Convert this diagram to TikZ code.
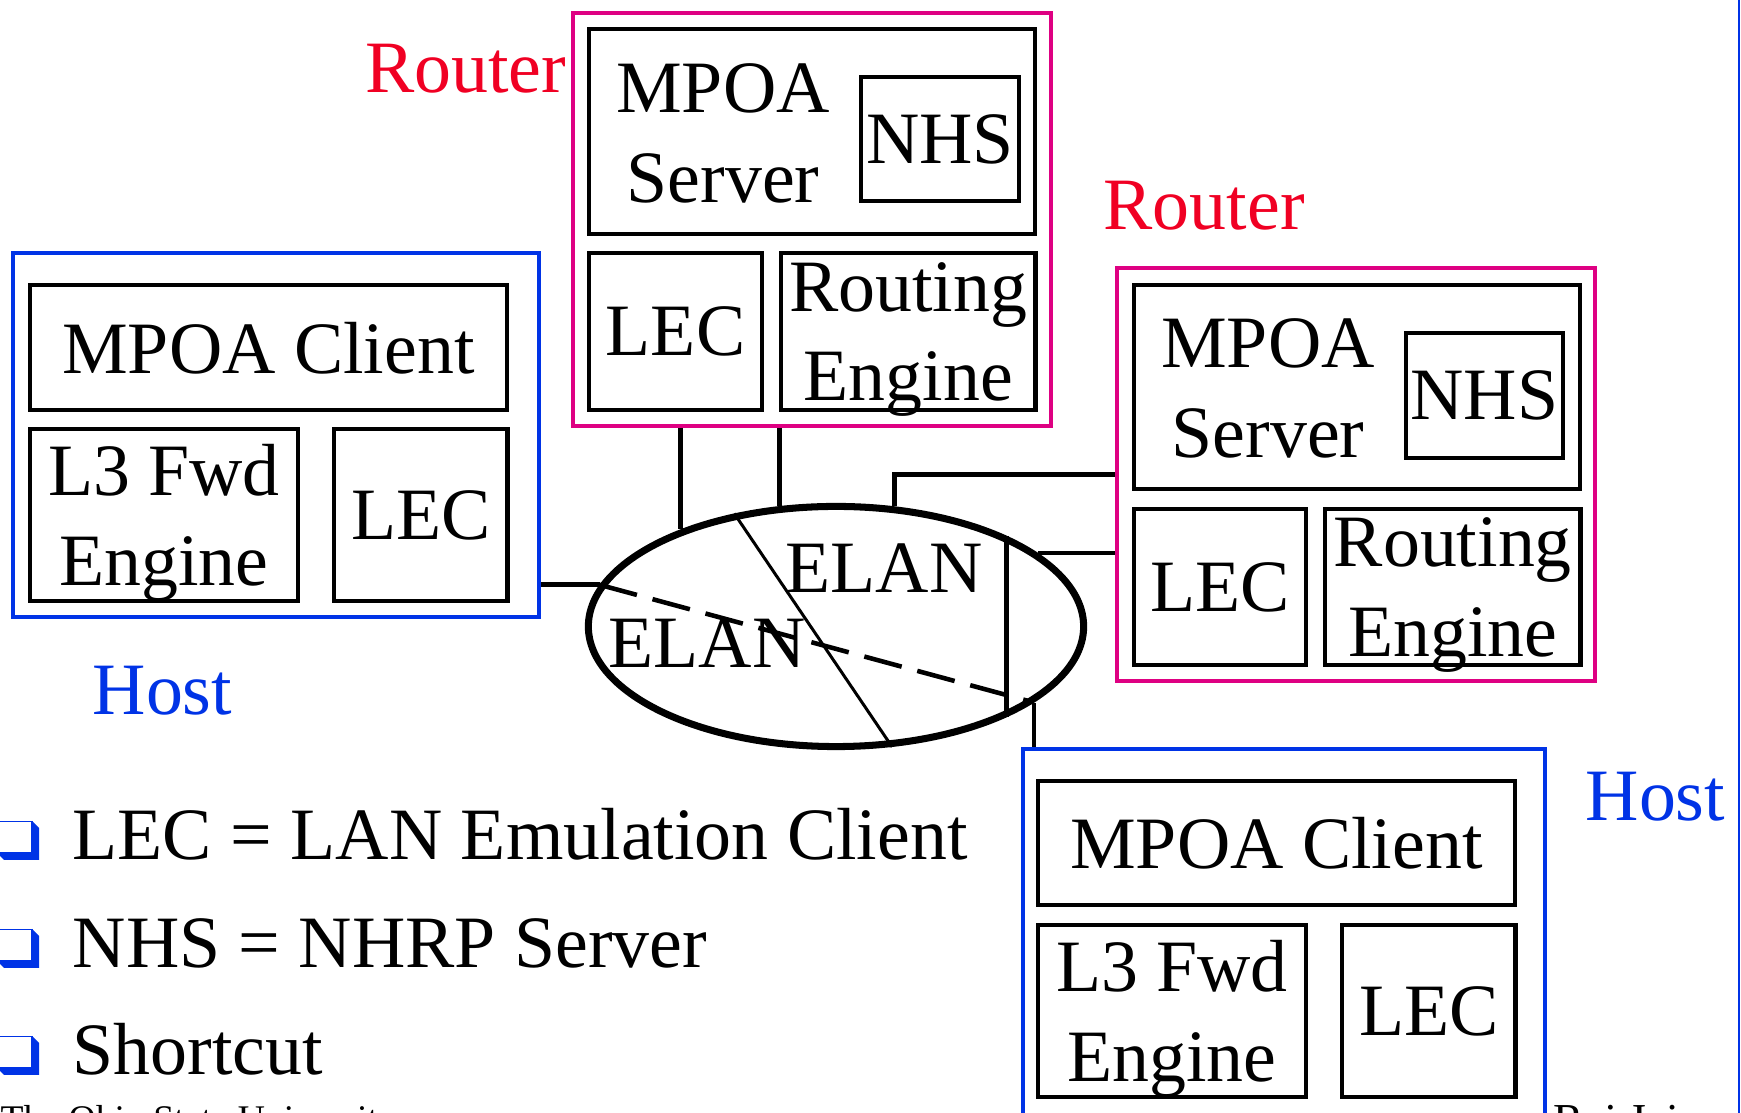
\documentclass[tikz,border=0pt]{standalone}
\usepackage{fontspec}
\setmainfont{Liberation Serif}
\usetikzlibrary{positioning,shapes.geometric}
\definecolor{routerpink}{RGB}{222,0,130}
\definecolor{routerred}{RGB}{240,0,35}
\definecolor{hostblue}{RGB}{0,51,230}
\tikzset{
  part/.style={rectangle, draw, line width=1.2pt, inner sep=0pt, align=center, text depth=0pt, font=\fontsize{21}{25.5}\selectfont},
  router/.style={rectangle, draw=routerpink, line width=1.05pt, inner sep=0pt},
  host/.style={rectangle, draw=hostblue, line width=1.05pt, inner sep=0pt},
  lbl/.style={inner sep=0pt, align=center, text depth=0pt, font=\fontsize{21}{25.5}\selectfont},
  link/.style={line width=1.4pt},
  shortcut/.style={line width=1.3pt, dash pattern=on 11pt off 4.6pt}
}
\begin{document}
\begin{tikzpicture}[x=0.01cm, y=-0.01cm]
\useasboundingbox (0,0) rectangle (1741,1113);

\node (hostL) [host, minimum width=5.26cm, minimum height=3.64cm] at (276,435) {};
\node (mcL) [part, minimum width=4.77cm, minimum height=1.25cm] at (268.5,347.5) {MPOA Client};
\node (fwdL) [part, minimum width=2.68cm, minimum height=1.72cm] at (164,515) {L3 Fwd\\Engine};
\node (lecL) [part, minimum width=1.73cm, minimum height=1.72cm, right=0.32cm of fwdL] {LEC};
\node (hostLlbl) [lbl, text=hostblue, anchor=base west] at (92,715) {Host};

\node (routerT) [router, minimum width=4.78cm, minimum height=4.13cm] at (812,219.5) {};
\node (srvT) [part, minimum width=4.46cm, minimum height=2.05cm] at (812,131.5) {};
\node (srvTtxt) [lbl] at (723,133) {MPOA\\Server};
\node (nhsT) [part, minimum width=1.58cm, minimum height=1.24cm] at (940,139) {NHS};
\node (lecT) [part, minimum width=1.73cm, minimum height=1.57cm] at (675.5,331.5) {LEC};
\node (reT) [part, minimum width=2.54cm, minimum height=1.57cm, right=0.15cm of lecT] {Routing\\Engine};
\node (routerTlbl) [lbl, text=routerred, anchor=base east] at (567,93) {Router};

\node (routerR) [router, minimum width=4.78cm, minimum height=4.13cm] at (1356,474.5) {};
\node (srvR) [part, minimum width=4.46cm, minimum height=2.04cm] at (1357,387) {};
\node (srvRtxt) [lbl] at (1268,388) {MPOA\\Server};
\node (nhsR) [part, minimum width=1.57cm, minimum height=1.25cm] at (1484.5,395.5) {NHS};
\node (lecR) [part, minimum width=1.72cm, minimum height=1.56cm] at (1220,587) {LEC};
\node (reR) [part, minimum width=2.55cm, minimum height=1.56cm, right=0.15cm of lecR] {Routing\\Engine};
\node (routerRlbl) [lbl, text=routerred, anchor=base west] at (1103,230) {Router};

\node (hostB) [host, minimum width=5.22cm, minimum height=3.69cm] at (1284,933.5) {};
\node (mcB) [part, minimum width=4.77cm, minimum height=1.24cm] at (1276.5,843) {MPOA Client};
\node (fwdB) [part, minimum width=2.68cm, minimum height=1.72cm] at (1172,1011) {L3 Fwd\\Engine};
\node (lecB) [part, minimum width=1.73cm, minimum height=1.72cm, right=0.32cm of fwdB] {LEC};
\node (hostBlbl) [lbl, text=hostblue, anchor=base west] at (1585,821) {Host};

\node (elan) [ellipse, draw, line width=2pt, minimum width=4.95cm, minimum height=2.4cm] at (836,626.5) {};
\node (elanA) [lbl, anchor=base west] at (785,593) {ELAN};
\node (elanB) [lbl, anchor=base west] at (608,668) {ELAN};

\draw [link] (elan.148.5 |- routerT.south) -- (elan.148.5);
\draw [link] (elan.115.6 |- routerT.south) -- (elan.115.6);
\draw [link] (routerR.west) -| (elan.64.4);
\draw [link] (elan.20.2) -- (elan.20.2 -| routerR.west);
\draw [link] (elan.170.4 -| hostL.east) -- (elan.170.4);
\draw [link] (elan.339.5) -- (elan.339.5 |- hostB.north);
\draw [link] (elan.28.6) -- (elan.-28.6);
\draw [line width=0.85pt] (elan.132) -- (elan.-65);
\draw [shortcut] (elan.170.4) -- (elan.339.5);

\foreach \b in {860,968,1075} {
  \fill [hostblue] (32,\b-39) -- (39,\b-32) -- (39,\b) -- (4,\b) -- (-3,\b-7) -- (32,\b-7) -- cycle;
  \draw [hostblue, line width=0.4pt] (-3,\b-38.5) rectangle (32,\b-7);
}
\node (defLEC) [lbl, anchor=base west] at (72,860) {LEC = LAN Emulation Client};
\node (defNHS) [lbl, anchor=base west] at (72,968) {NHS = NHRP Server};
\node (defCut) [lbl, anchor=base west] at (72,1075) {Shortcut};

\node (ohio) [inner sep=0pt, anchor=base west, font=\fontsize{10.7}{12}\selectfont] at (0,1132) {The Ohio State University};
\node (raj) [inner sep=0pt, anchor=base west, font=\fontsize{13}{15}\selectfont] at (1553,1136) {Raj Jain};
\draw [hostblue, line width=0.8pt] (1739,0) -- (1739,1113);
\end{tikzpicture}
\end{document}
